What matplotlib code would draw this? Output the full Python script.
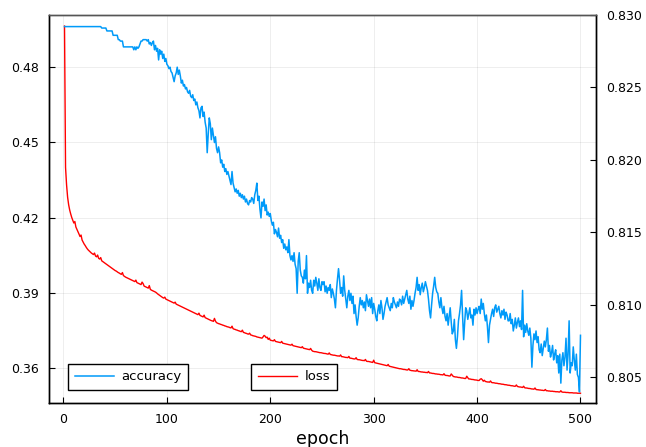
import numpy as np
import matplotlib
matplotlib.use("Agg")
import matplotlib.pyplot as plt
from matplotlib.ticker import FormatStrFormatter

# ==========================================================
# DATA (one value per epoch)
# ==========================================================

epochs = np.arange(1, 501)

loss = [
    0.4965, 0.4400, 0.4330, 0.4281, 0.4251, 0.4230, 0.4214, 0.4200, 0.4189, 0.4178,
    0.4184, 0.4162, 0.4153, 0.4143, 0.4134, 0.4124, 0.4130, 0.4110, 0.4102, 0.4094,
    0.4088, 0.4081, 0.4075, 0.4070, 0.4066, 0.4062, 0.4058, 0.4055, 0.4052, 0.4058,
    0.4046, 0.4043, 0.4050, 0.4037, 0.4034, 0.4040, 0.4027, 0.4024, 0.4021, 0.4018,
    0.4015, 0.4012, 0.4009, 0.4006, 0.4003, 0.4000, 0.3997, 0.3994, 0.3991, 0.3988,
    0.3986, 0.3983, 0.3980, 0.3978, 0.3975, 0.3973, 0.3980, 0.3968, 0.3965, 0.3962,
    0.3960, 0.3958, 0.3956, 0.3954, 0.3952, 0.3950, 0.3948, 0.3946, 0.3944, 0.3950,
    0.3940, 0.3938, 0.3936, 0.3934, 0.3932, 0.3942, 0.3936, 0.3926, 0.3924, 0.3922,
    0.3920, 0.3918, 0.3928, 0.3913, 0.3910, 0.3908, 0.3906, 0.3904, 0.3902, 0.3899,
    0.3895, 0.3892, 0.3889, 0.3886, 0.3883, 0.3880, 0.3878, 0.3882, 0.3874, 0.3872,
    0.3870, 0.3868, 0.3866, 0.3864, 0.3862, 0.3860, 0.3858, 0.3862, 0.3854, 0.3852,
    0.3850, 0.3848, 0.3846, 0.3844, 0.3842, 0.3840, 0.3838, 0.3836, 0.3834, 0.3832,
    0.3830, 0.3828, 0.3826, 0.3824, 0.3822, 0.3820, 0.3818, 0.3816, 0.3814, 0.3812,
    0.3818, 0.3809, 0.3807, 0.3805, 0.3803, 0.3810, 0.3800, 0.3798, 0.3796, 0.3794,
    0.3792, 0.3790, 0.3788, 0.3787, 0.3785, 0.3797, 0.3786, 0.3780, 0.3778, 0.3776,
    0.3775, 0.3773, 0.3772, 0.3770, 0.3769, 0.3767, 0.3766, 0.3764, 0.3763, 0.3762,
    0.3760, 0.3759, 0.3766, 0.3756, 0.3754, 0.3753, 0.3751, 0.3750, 0.3748, 0.3747,
    0.3745, 0.3744, 0.3750, 0.3741, 0.3740, 0.3738, 0.3737, 0.3735, 0.3734, 0.3738,
    0.3731, 0.3730, 0.3728, 0.3727, 0.3726, 0.3725, 0.3723, 0.3722, 0.3721, 0.3720,
    0.3719, 0.3718, 0.3723, 0.3729, 0.3726, 0.3720, 0.3722, 0.3713, 0.3718, 0.3710,
    0.3709, 0.3708, 0.3707, 0.3712, 0.3705, 0.3704, 0.3703, 0.3702, 0.3701, 0.3700,
    0.3705, 0.3698, 0.3697, 0.3696, 0.3695, 0.3694, 0.3693, 0.3692, 0.3691, 0.3690,
    0.3694, 0.3688, 0.3687, 0.3686, 0.3685, 0.3684, 0.3683, 0.3682, 0.3681, 0.3680,
    0.3684, 0.3678, 0.3677, 0.3676, 0.3675, 0.3674, 0.3673, 0.3672, 0.3677, 0.3670,
    0.3666, 0.3665, 0.3664, 0.3664, 0.3663, 0.3662, 0.3661, 0.3660, 0.3660, 0.3659,
    0.3658, 0.3657, 0.3657, 0.3656, 0.3655, 0.3654, 0.3659, 0.3653, 0.3652, 0.3651,
    0.3650, 0.3650, 0.3649, 0.3648, 0.3647, 0.3647, 0.3646, 0.3651, 0.3644, 0.3644,
    0.3643, 0.3642, 0.3641, 0.3641, 0.3640, 0.3645, 0.3638, 0.3638, 0.3637, 0.3636,
    0.3635, 0.3635, 0.3640, 0.3633, 0.3632, 0.3632, 0.3631, 0.3630, 0.3629, 0.3629,
    0.3628, 0.3633, 0.3626, 0.3625, 0.3625, 0.3624, 0.3623, 0.3622, 0.3621, 0.3630,
    0.3620, 0.3619, 0.3618, 0.3617, 0.3616, 0.3615, 0.3614, 0.3613, 0.3612, 0.3611,
    0.3610, 0.3609, 0.3608, 0.3613, 0.3606, 0.3605, 0.3604, 0.3603, 0.3602, 0.3601,
    0.3600, 0.3599, 0.3598, 0.3597, 0.3596, 0.3596, 0.3595, 0.3594, 0.3593, 0.3593,
    0.3592, 0.3591, 0.3591, 0.3596, 0.3590, 0.3589, 0.3588, 0.3588, 0.3587, 0.3587,
    0.3586, 0.3592, 0.3585, 0.3585, 0.3584, 0.3583, 0.3583, 0.3582, 0.3582, 0.3581,
    0.3581, 0.3580, 0.3585, 0.3579, 0.3579, 0.3578, 0.3577, 0.3577, 0.3576, 0.3575,
    0.3575, 0.3574, 0.3574, 0.3573, 0.3572, 0.3572, 0.3571, 0.3576, 0.3570, 0.3569,
    0.3569, 0.3568, 0.3567, 0.3567, 0.3575, 0.3570, 0.3565, 0.3564, 0.3563, 0.3563,
    0.3562, 0.3561, 0.3561, 0.3560, 0.3559, 0.3559, 0.3558, 0.3557, 0.3557, 0.3566,
    0.3560, 0.3555, 0.3555, 0.3554, 0.3553, 0.3553, 0.3552, 0.3551, 0.3551, 0.3550,
    0.3549, 0.3549, 0.3554, 0.3556, 0.3552, 0.3546, 0.3550, 0.3545, 0.3544, 0.3543,
    0.3543, 0.3542, 0.3547, 0.3541, 0.3540, 0.3540, 0.3539, 0.3538, 0.3538, 0.3537,
    0.3536, 0.3536, 0.3535, 0.3534, 0.3534, 0.3533, 0.3532, 0.3532, 0.3531, 0.3530,
    0.3530, 0.3529, 0.3528, 0.3528, 0.3527, 0.3526, 0.3526, 0.3531, 0.3525, 0.3524,
    0.3523, 0.3523, 0.3522, 0.3521, 0.3526, 0.3520, 0.3519, 0.3519, 0.3518, 0.3517,
    0.3517, 0.3516, 0.3515, 0.3515, 0.3514, 0.3519, 0.3513, 0.3512, 0.3512, 0.3511,
    0.3511, 0.3510, 0.3510, 0.3509, 0.3509, 0.3513, 0.3508, 0.3508, 0.3507, 0.3507,
    0.3506, 0.3506, 0.3506, 0.3505, 0.3505, 0.3504, 0.3504, 0.3504, 0.3503, 0.3503,
    0.3508, 0.3503, 0.3502, 0.3502, 0.3502, 0.3501, 0.3501, 0.3501, 0.3500, 0.3500,
    0.3500, 0.3500, 0.3499, 0.3499, 0.3499, 0.3499, 0.3498, 0.3498, 0.3498, 0.3498,
]

accuracy = [
    0.8292, 0.8292, 0.8292, 0.8292, 0.8292, 0.8292, 0.8292, 0.8292, 0.8292, 0.8292,
    0.8292, 0.8292, 0.8292, 0.8292, 0.8292, 0.8292, 0.8292, 0.8292, 0.8292, 0.8292,
    0.8292, 0.8292, 0.8292, 0.8292, 0.8292, 0.8292, 0.8292, 0.8292, 0.8292, 0.8292,
    0.8292, 0.8292, 0.8292, 0.8292, 0.8292, 0.8292, 0.8291, 0.8291, 0.8291, 0.8291,
    0.8291, 0.8289, 0.8289, 0.8289, 0.8289, 0.8289, 0.8289, 0.8286, 0.8286, 0.8286,
    0.8286, 0.8286, 0.8283, 0.8283, 0.8282, 0.8282, 0.8282, 0.8278, 0.8278, 0.8278,
    0.8278, 0.8278, 0.8278, 0.8278, 0.8278, 0.8278, 0.8278, 0.8276, 0.8278, 0.8276,
    0.8278, 0.8277, 0.8278, 0.8280, 0.8282, 0.8282, 0.8283, 0.8283, 0.8283, 0.8283,
    0.8282, 0.8283, 0.8280, 0.8281, 0.8279, 0.8281, 0.8282, 0.8276, 0.8279, 0.8275,
    0.8277, 0.8269, 0.8276, 0.8273, 0.8275, 0.8270, 0.8273, 0.8268, 0.8270, 0.8266,
    0.8265, 0.8263, 0.8264, 0.8261, 0.8260, 0.8257, 0.8254, 0.8258, 0.8260, 0.8264,
    0.8259, 0.8262, 0.8258, 0.8253, 0.8255, 0.8251, 0.8252, 0.8249, 0.8250, 0.8247,
    0.8246, 0.8248, 0.8244, 0.8243, 0.8245, 0.8241, 0.8242, 0.8238, 0.8240, 0.8236,
    0.8234, 0.8229, 0.8236, 0.8237, 0.8230, 0.8233, 0.8226, 0.8222, 0.8205, 0.8218,
    0.8229, 0.8225, 0.8214, 0.8222, 0.8217, 0.8212, 0.8216, 0.8208, 0.8205, 0.8209,
    0.8205, 0.8198, 0.8200, 0.8195, 0.8197, 0.8192, 0.8194, 0.8190, 0.8192, 0.8189,
    0.8186, 0.8183, 0.8192, 0.8184, 0.8181, 0.8178, 0.8180, 0.8177, 0.8179, 0.8175,
    0.8177, 0.8174, 0.8176, 0.8173, 0.8175, 0.8171, 0.8173, 0.8170, 0.8169, 0.8172,
    0.8171, 0.8174, 0.8173, 0.8170, 0.8176, 0.8179, 0.8184, 0.8172, 0.8175, 0.8166,
    0.8160, 0.8171, 0.8168, 0.8173, 0.8165, 0.8169, 0.8162, 0.8164, 0.8161, 0.8163,
    0.8158, 0.8155, 0.8157, 0.8149, 0.8152, 0.8150, 0.8147, 0.8153, 0.8146, 0.8148,
    0.8143, 0.8145, 0.8139, 0.8142, 0.8138, 0.8140, 0.8136, 0.8145, 0.8134, 0.8131,
    0.8134, 0.8130, 0.8136, 0.8128, 0.8125, 0.8108, 0.8130, 0.8136, 0.8124, 0.8120,
    0.8119, 0.8115, 0.8124, 0.8118, 0.8134, 0.8108, 0.8115, 0.8112, 0.8117, 0.8110,
    0.8108, 0.8117, 0.8113, 0.8119, 0.8115, 0.8110, 0.8118, 0.8112, 0.8110, 0.8116,
    0.8114, 0.8116, 0.8109, 0.8113, 0.8108, 0.8112, 0.8110, 0.8114, 0.8105, 0.8111,
    0.8108, 0.8104, 0.8098, 0.8110, 0.8118, 0.8125, 0.8117, 0.8108, 0.8112, 0.8106,
    0.8120, 0.8110, 0.8104, 0.8098, 0.8106, 0.8110, 0.8103, 0.8108, 0.8101, 0.8106,
    0.8094, 0.8100, 0.8092, 0.8086, 0.8091, 0.8099, 0.8105, 0.8100, 0.8103, 0.8098,
    0.8102, 0.8096, 0.8107, 0.8103, 0.8099, 0.8104, 0.8098, 0.8105, 0.8094, 0.8101,
    0.8097, 0.8092, 0.8089, 0.8096, 0.8100, 0.8094, 0.8103, 0.8098, 0.8090, 0.8094,
    0.8099, 0.8102, 0.8105, 0.8100, 0.8098, 0.8096, 0.8101, 0.8098, 0.8105, 0.8102,
    0.8100, 0.8098, 0.8102, 0.8099, 0.8104, 0.8103, 0.8100, 0.8106, 0.8101, 0.8104,
    0.8107, 0.8110, 0.8104, 0.8101, 0.8106, 0.8097, 0.8103, 0.8099, 0.8103, 0.8108,
    0.8112, 0.8119, 0.8110, 0.8114, 0.8107, 0.8112, 0.8115, 0.8109, 0.8112, 0.8116,
    0.8113, 0.8110, 0.8104, 0.8096, 0.8091, 0.8100, 0.8108, 0.8113, 0.8119, 0.8112,
    0.8109, 0.8108, 0.8102, 0.8098, 0.8105, 0.8098, 0.8094, 0.8099, 0.8092, 0.8089,
    0.8094, 0.8086, 0.8092, 0.8098, 0.8088, 0.8080, 0.8082, 0.8090, 0.8076, 0.8070,
    0.8078, 0.8089, 0.8094, 0.8100, 0.8110, 0.8092, 0.8076, 0.8088, 0.8098, 0.8096,
    0.8090, 0.8094, 0.8098, 0.8091, 0.8093, 0.8086, 0.8097, 0.8093, 0.8098, 0.8094,
    0.8097, 0.8099, 0.8094, 0.8104, 0.8097, 0.8101, 0.8094, 0.8089, 0.8093, 0.8085,
    0.8074, 0.8086, 0.8090, 0.8094, 0.8097, 0.8092, 0.8098, 0.8100, 0.8095, 0.8097,
    0.8099, 0.8094, 0.8091, 0.8096, 0.8093, 0.8097, 0.8090, 0.8095, 0.8093, 0.8089,
    0.8089, 0.8094, 0.8087, 0.8090, 0.8082, 0.8086, 0.8091, 0.8084, 0.8088, 0.8091,
    0.8085, 0.8089, 0.8083, 0.8110, 0.8078, 0.8086, 0.8081, 0.8087, 0.8082, 0.8079,
    0.8084, 0.8077, 0.8057, 0.8072, 0.8080, 0.8076, 0.8082, 0.8074, 0.8078, 0.8069,
    0.8067, 0.8073, 0.8065, 0.8070, 0.8075, 0.8071, 0.8076, 0.8084, 0.8068, 0.8072,
    0.8064, 0.8067, 0.8072, 0.8062, 0.8066, 0.8069, 0.8060, 0.8065, 0.8053, 0.8066,
    0.8046, 0.8062, 0.8067, 0.8058, 0.8064, 0.8077, 0.8055, 0.8066, 0.8089, 0.8053,
    0.8060, 0.8058, 0.8071, 0.8062, 0.8055, 0.8066, 0.8052, 0.8050, 0.8040, 0.8079,
]

x_ticks = [0, 100, 200, 300, 400, 500]
loss_ticks = [0.36, 0.39, 0.42, 0.45, 0.48]
acc_ticks = [0.805, 0.810, 0.815, 0.820, 0.825, 0.830]

# ==========================================================
# PLOT
# ==========================================================

W, H = 646, 447
fig = plt.figure(figsize=(W / 100, H / 100), dpi=100)
ax = fig.add_axes([49 / W, 44 / H, 547 / W, 388 / H])
ax2 = ax.twinx()

line_loss, = ax.plot(epochs, loss, color="#ff0000", lw=1.0, label="loss")
line_acc, = ax2.plot(epochs, accuracy, color="#009af9", lw=1.1, label="accuracy")

ax.set_xlim(-14, 515)
ax.set_ylim(0.3459, 0.5009)
ax2.set_ylim(0.80323, 0.8300)

ax.set_xticks(x_ticks)
ax.set_yticks(loss_ticks)
ax2.set_yticks(acc_ticks)
ax.yaxis.set_major_formatter(FormatStrFormatter("%.2f"))
ax2.yaxis.set_major_formatter(FormatStrFormatter("%.3f"))

ax.grid(True, color="#000000", alpha=0.08, lw=0.6)
ax.set_axisbelow(True)

for a in (ax, ax2):
    a.tick_params(direction="in", length=4, width=0.8, labelsize=9,
                  colors="black", pad=7)
    for s in a.spines.values():
        s.set_linewidth(1.0)
        s.set_color("black")
    a.spines["top"].set_color("#555555")

ax.set_xlabel("epoch", fontsize=12.5, labelpad=3)

leg_kw = dict(fontsize=9.5, fancybox=False, edgecolor="black", framealpha=1,
              borderaxespad=0, handlelength=3.0, handletextpad=0.55,
              borderpad=0.5, loc="lower left", bbox_transform=fig.transFigure)
leg1 = fig.legend(handles=[line_acc], bbox_to_anchor=(68 / W, 57 / H), **leg_kw)
leg1.get_frame().set_linewidth(1.0)
leg2 = fig.legend(handles=[line_loss], bbox_to_anchor=(251 / W, 57 / H), **leg_kw)
leg2.get_frame().set_linewidth(1.0)

fig.savefig("out.png", dpi=100)
